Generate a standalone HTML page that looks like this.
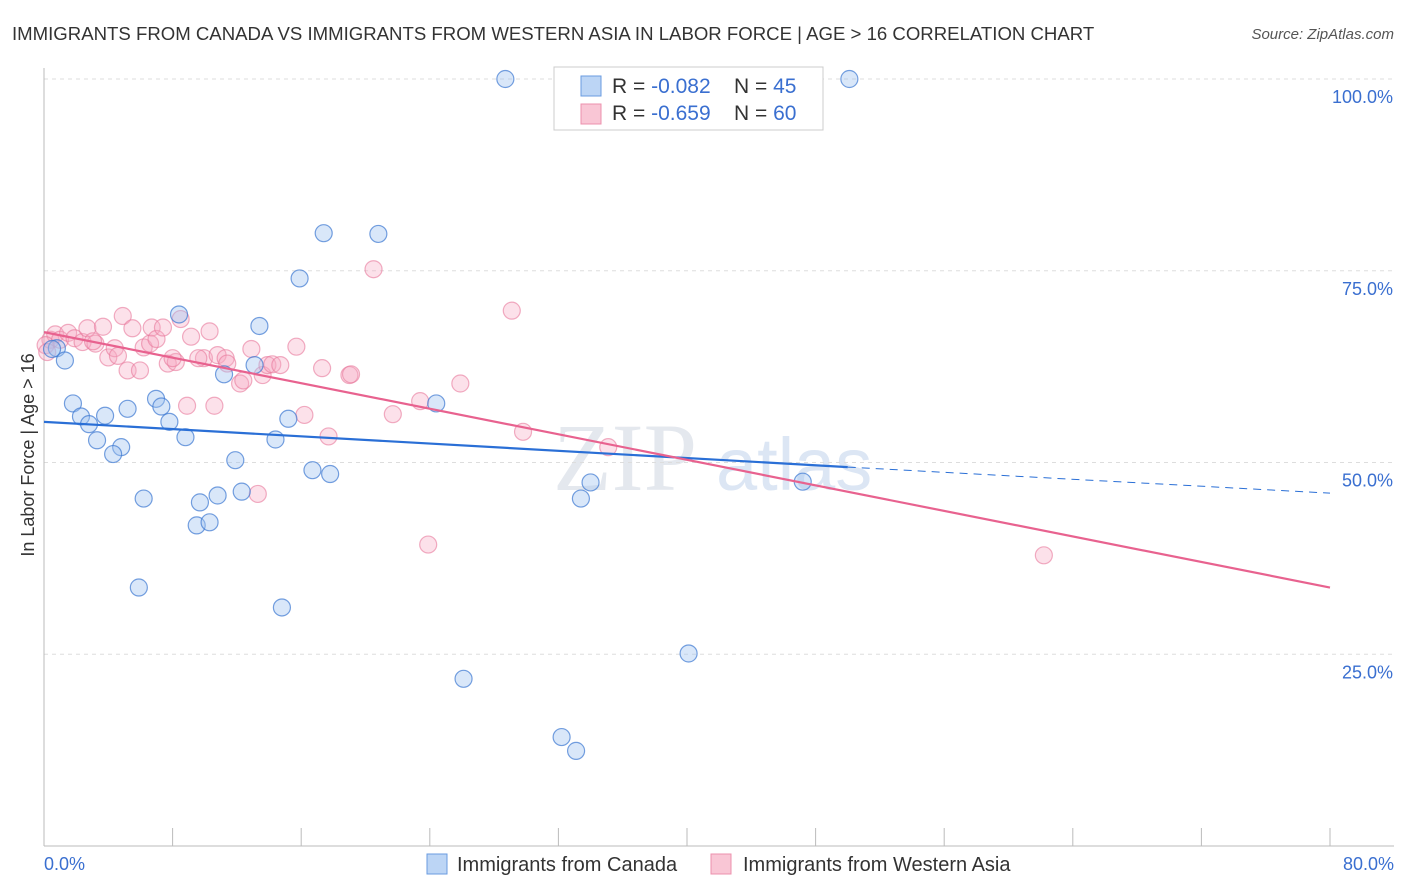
<!DOCTYPE html>
<html><head><meta charset="utf-8"><style>
body{margin:0;background:#fff;font-family:"Liberation Sans",sans-serif;}
svg{display:block}
</style></head><body>
<svg id="chart" width="1406" height="892">
<text x="12" y="40" font-size="18.6" fill="#333">IMMIGRANTS FROM CANADA VS IMMIGRANTS FROM WESTERN ASIA IN LABOR FORCE | AGE &gt; 16 CORRELATION CHART</text>
<text x="1394" y="39" font-size="15" fill="#555" font-style="italic" text-anchor="end">Source: ZipAtlas.com</text>
<text x="553" y="490" font-size="96" fill="#e4e8ee" font-family="Liberation Serif,serif">ZIP</text>
<text x="716" y="490" font-size="74" fill="#dce6f4">atlas</text>
<g id="grid"></g>
<line x1="44" y1="68" x2="44" y2="846" stroke="#bbb"/>
<line x1="44" y1="846" x2="1394" y2="846" stroke="#bbb"/>
<text x="34" y="455" font-size="18" fill="#333" text-anchor="middle" transform="rotate(-90 34 455)">In Labor Force | Age &gt; 16</text>
<text x="44" y="870" font-size="18" fill="#3a6fd0">0.0%</text>
<text x="1394" y="870" font-size="18" fill="#3a6fd0" text-anchor="end">80.0%</text>
<g id="marks"></g>
<g>
<rect x="554" y="67" width="269" height="63" fill="#fff" stroke="#ccc"/>
<rect x="581" y="76" width="20" height="20" fill="#bcd5f5" stroke="#6a9be0"/>
<rect x="581" y="104" width="20" height="20" fill="#f9c6d5" stroke="#ec90ad"/>
<text x="612" y="93" font-size="21" fill="#333">R = <tspan fill="#3a6fd0">-0.082</tspan></text>
<text x="734" y="93" font-size="21" fill="#333">N = <tspan fill="#3a6fd0">45</tspan></text>
<text x="612" y="120" font-size="21" fill="#333">R = <tspan fill="#3a6fd0">-0.659</tspan></text>
<text x="734" y="120" font-size="21" fill="#333">N = <tspan fill="#3a6fd0">60</tspan></text>
</g>
<g>
<rect x="427" y="854" width="20" height="20" fill="#bcd5f5" stroke="#6a9be0"/>
<text x="457" y="871" font-size="20" fill="#333">Immigrants from Canada</text>
<rect x="711" y="854" width="20" height="20" fill="#f9c6d5" stroke="#ec90ad"/>
<text x="743" y="871" font-size="20" fill="#333">Immigrants from Western Asia</text>
</g>
</svg>
<script>
const yTicks=[25,50,75,100];
const xTickCount=10;
const canadaX=[28.7,50.1,17.4,20.8,15.9,8.4,13.4,0.8,1.3,13.1,11.2,1.8,2.3,2.8,3.8,5.2,6.97,7.3,7.8,3.3,8.8,4.8,4.3,11.9,14.4,15.2,24.4,16.7,17.8,6.2,9.7,10.8,12.3,34.0,33.4,47.2,9.5,10.3,5.9,14.8,40.1,26.1,32.2,33.1,0.5];
const canadaY=[100,100,79.9,79.8,74.0,69.3,67.8,64.9,63.3,62.7,61.5,57.7,56.0,55.0,56.1,57.0,58.3,57.3,55.3,52.9,53.3,52.0,51.1,50.3,53.0,55.7,57.7,49.0,48.5,45.3,44.8,45.7,46.2,47.4,45.3,47.5,41.8,42.2,33.7,31.1,25.1,21.8,14.2,12.4,64.8];
const westAsiaX=[0.4,0.7,1.0,1.5,1.9,2.4,2.7,3.2,3.67,4.0,4.4,4.6,4.9,5.2,5.5,5.97,6.2,6.6,6.7,7.0,7.4,7.7,8.2,8.5,8.0,8.9,9.15,9.95,10.3,10.6,10.8,11.3,11.4,12.2,12.4,12.9,13.3,13.6,13.9,14.2,14.7,15.7,16.2,17.3,17.7,19.0,19.1,20.5,21.7,23.4,23.9,25.9,29.1,29.8,35.1,62.2,0.1,3.05,0.2,9.6];
const westAsiaY=[66.0,66.7,66.0,66.9,66.2,65.7,67.5,65.5,67.7,63.7,64.9,63.9,69.1,62.0,67.5,62.0,65.0,65.5,67.6,66.1,67.6,62.9,63.1,68.7,63.6,57.4,66.4,63.6,67.1,57.4,64.0,63.6,62.9,60.3,60.7,64.8,45.9,61.4,62.7,62.8,62.7,65.1,56.2,62.3,53.4,61.4,61.5,75.2,56.3,58.0,39.3,60.3,69.8,54.0,52.0,37.9,65.3,65.8,64.4,63.6];
const canadaTrend=[55.3,49.4,46.0];
const westTrend=[67.0,33.7];
const X0=44,X1=1330,Y0=846,Y100=79;
const sx=v=>X0+(v/80)*(X1-X0);
const sy=v=>Y0-(v/100)*(Y0-Y100);
const NS='http://www.w3.org/2000/svg';
const grid=document.getElementById('grid'),marks=document.getElementById('marks');
function mk(tag,attrs,parent){const e=document.createElementNS(NS,tag);for(const k in attrs)e.setAttribute(k,attrs[k]);parent.appendChild(e);return e;}
yTicks.forEach(t=>{
 const l=mk('line',{x1:44,x2:1394,y1:sy(t),y2:sy(t),stroke:'#ddd','stroke-dasharray':'4,4'},grid);
 
 
 const tx=mk('text',{x:1393,y:sy(t)+24,'font-size':18,fill:'#3a6fd0','text-anchor':'end'},grid);
 tx.textContent=t.toFixed(1)+'%';
 
 
});
for(let i=1;i<=xTickCount;i++){
 const x=sx(i*8);
 const l=mk('line',{x1:x,x2:x,y1:828,y2:846,stroke:'#bbb'},grid);
 
 
}
westAsiaX.forEach((v,i)=>{
 const c=mk('circle',{cx:sx(v),cy:sy(westAsiaY[i]),r:8.5,fill:'rgba(246,170,195,0.35)',stroke:'rgba(232,120,155,0.6)','stroke-width':1.2},marks);
 
 
});
canadaX.forEach((v,i)=>{
 const c=mk('circle',{cx:sx(v),cy:sy(canadaY[i]),r:8.5,fill:'rgba(160,195,240,0.4)',stroke:'rgba(60,120,210,0.7)','stroke-width':1.2},marks);
 
 
});
let l=mk('line',{x1:sx(0),y1:sy(canadaTrend[0]),x2:sx(50),y2:sy(canadaTrend[1]),stroke:'#2a6fd6','stroke-width':2.2},marks);


l=mk('line',{x1:sx(50),y1:sy(canadaTrend[1]),x2:sx(80),y2:sy(canadaTrend[2]),stroke:'#2a6fd6','stroke-width':1,'stroke-dasharray':'8,6'},marks);


l=mk('line',{x1:sx(0),y1:sy(westTrend[0]),x2:sx(80),y2:sy(westTrend[1]),stroke:'#e8628f','stroke-width':2.2},marks);


</script>
</body></html>
